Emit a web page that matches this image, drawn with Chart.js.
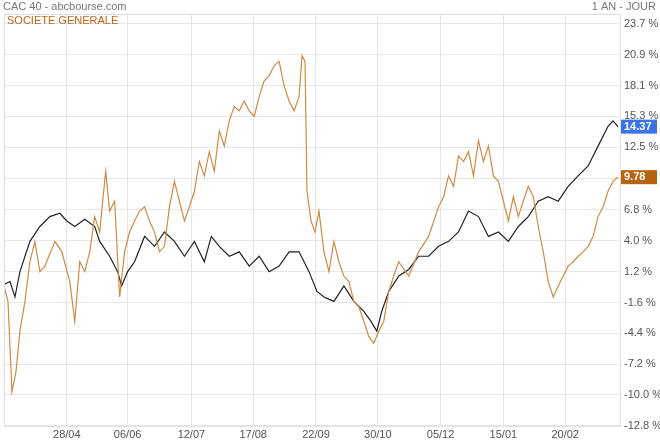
<!DOCTYPE html>
<html><head><meta charset="utf-8">
<script src="https://cdn.jsdelivr.net/npm/chart.js@4"></script>
<style>body{margin:0;background:#fff}#wrap{position:relative;width:660px;height:445px}</style>
</head><body>
<div id="wrap"><canvas id="c"></canvas></div>
<script>
// position along the time axis (0..618) and % change
const cacT = [0,6,11,16,26,36,46,56,63,71,81,91,96,106,114,118,124,131,141,151,161,171,181,191,201,208,216,226,236,246,256,266,276,286,296,306,314,321,331,341,351,361,368,374,379,386,396,406,416,426,436,446,456,466,476,486,496,506,516,526,536,546,556,566,576,586,596,606,611,616];
const cacVals = [0.04,0.3,-1.1,1.2,3.95,5.3,6.2,6.5,5.8,5.3,5.95,5.3,3.95,2.6,1.2,-0.1,1.2,2.1,4.4,3.5,4.8,3.95,2.6,3.95,2.1,4.4,3.5,2.6,3.0,1.7,2.6,1.2,1.7,3.0,3.0,1.2,-0.6,-1.1,-1.5,-0.1,-1.5,-2.4,-3.3,-4.2,-2.4,-0.6,0.8,1.4,2.6,2.6,3.5,3.95,4.8,6.7,6.2,4.4,4.8,3.95,5.3,6.2,7.6,8.0,7.6,8.95,9.9,10.8,12.6,14.4,14.9,14.37];
const sgT = [0,4,8,12,16,21,26,31,36,41,51,58,66,71,76,81,86,91,96,99,102,106,111,116,121,126,131,136,141,146,151,156,161,166,171,176,181,186,191,196,201,206,211,216,221,226,231,236,241,246,251,256,261,266,271,276,281,286,291,296,299,302,304,308,312,316,321,326,331,336,341,346,351,356,361,366,371,376,381,386,391,396,406,416,426,436,441,446,451,456,461,466,471,476,481,486,491,496,501,506,511,516,521,526,531,536,541,546,551,556,561,566,571,576,581,586,591,596,601,606,611,616];
const sgVals = [-0.1,-1.5,-9.7,-7.9,-4.2,-1.5,2.1,3.95,1.2,1.7,3.95,3.0,0.3,-3.3,2.1,1.2,3.0,6.2,4.8,7.6,10.3,6.7,7.6,-1.1,3.0,4.8,5.8,6.7,7.1,5.8,4.8,3.0,3.5,7.1,9.4,7.6,5.8,7.1,8.5,11.2,9.9,12.1,10.3,14.0,12.6,14.9,16.2,15.8,16.7,15.8,15.3,17.1,18.5,19.0,19.9,20.3,18.1,16.7,15.8,17.1,20.8,20.3,8.5,5.8,4.8,6.7,3.0,1.2,3.95,2.1,0.8,0.3,-1.5,-2.0,-3.3,-4.7,-5.3,-4.2,-3.3,-0.6,0.8,2.1,0.8,3.0,4.4,7.1,8.0,9.9,8.95,11.7,11.2,12.1,9.9,13.1,11.2,12.6,9.9,9.4,7.6,5.8,8.0,6.2,7.6,8.95,8.0,5.3,3.0,0.3,-1.1,-0.1,0.8,1.7,2.1,2.6,3.0,3.5,4.4,6.2,7.1,8.5,9.4,9.78];
const xTickPos = [63,124,188,250,313,375,438,501,563];
const xTickLabels = ['28/04','06/06','12/07','17/08','22/09','30/10','05/12','15/01','20/02'];
const yTickVals = [-12.8,-10.0,-7.2,-4.4,-1.6,1.2,4.0,6.8,9.7,12.5,15.3,18.1,20.9,23.7];

const pts = (t, v) => t.map((x, i) => ({x: x, y: v[i]}));

const decor = {
  id: 'decor',
  afterDraw(chart) {
    const ctx = chart.ctx, a = chart.chartArea, y = chart.scales.y;
    ctx.save();
    ctx.font = '11px "Liberation Sans", Arial, sans-serif';
    ctx.textBaseline = 'middle';
    ctx.fillStyle = '#777';
    ctx.textAlign = 'left';
    ctx.fillText('CAC 40 - abcbourse.com', 3, 7);
    ctx.textAlign = 'right';
    ctx.fillText('1 AN - JOUR', 656, 7);
    ctx.textAlign = 'left';
    ctx.fillStyle = '#c0661a';
    ctx.fillText('SOCIETE GENERALE', 7, 21);
    ctx.strokeStyle = '#ddd';
    ctx.strokeRect(a.left + 0.5, a.top + 0.5, a.right - a.left, a.bottom - a.top);
    const badge = (val, col) => {
      const py = y.getPixelForValue(val);
      ctx.fillStyle = col;
      ctx.fillRect(a.right + 1, py - 7, 36, 14);
      ctx.fillStyle = '#fff';
      ctx.font = 'bold 11px "Liberation Sans", Arial, sans-serif';
      ctx.textAlign = 'left';
      ctx.fillText(val.toFixed(2), a.right + 4, py);
    };
    badge(cacVals[cacVals.length - 1], '#3b74e6');
    badge(sgVals[sgVals.length - 1], '#b8630f');
    ctx.restore();
  }
};

new Chart(document.getElementById('c'), {
  type: 'line',
  data: {
    datasets: [
      {data: pts(sgT, sgVals), borderColor: '#d08a45', borderWidth: 1.2, pointRadius: 0, tension: 0},
      {data: pts(cacT, cacVals), borderColor: '#222', borderWidth: 1.2, pointRadius: 0, tension: 0}
    ]
  },
  options: {
    responsive: true, maintainAspectRatio: false, animation: false,
    layout: {padding: {top: 14, left: 4, right: 0, bottom: 0}},
    plugins: {legend: {display: false}, tooltip: {enabled: false}},
    scales: {
      x: {
        type: 'linear', min: 0, max: 618,
        afterBuildTicks: s => { s.ticks = xTickPos.map(v => ({value: v})); },
        ticks: {callback: (v, i) => xTickLabels[i], color: '#555', font: {size: 11, family: 'Liberation Sans'}, maxRotation: 0, autoSkip: false},
        grid: {color: '#e6e6e6', drawTicks: false},
        border: {display: false}
      },
      y: {
        position: 'right', min: -12.8, max: 24.6,
        afterBuildTicks: s => { s.ticks = yTickVals.map(v => ({value: v})); },
        afterFit: s => { s.width = 40; },
        ticks: {callback: v => v.toFixed(1) + ' %', color: '#555', font: {size: 11, family: 'Liberation Sans'}, padding: 4},
        grid: {color: '#e6e6e6', drawTicks: false},
        border: {display: false}
      }
    }
  },
  plugins: [decor]
});
</script>
</body></html>
